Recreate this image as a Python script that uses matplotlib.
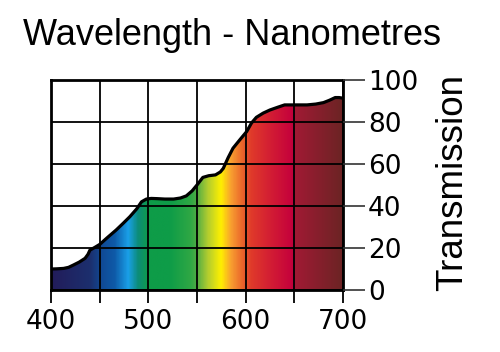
import matplotlib
matplotlib.use("Agg")
import matplotlib.pyplot as plt
import numpy as np
from matplotlib.colors import LinearSegmentedColormap
from matplotlib.patches import Polygon

# transmission curve
wavelength = [400, 406, 413, 418, 423, 429, 435, 438, 440, 445, 450, 458, 467, 474, 481, 488,
              493, 498, 503, 509, 517, 526, 533, 539, 545, 550, 556, 562, 569, 574, 577,
              582, 587, 594, 601, 606, 611, 618, 625, 633, 640, 650, 663, 672, 680, 686,
              692, 696, 700]
transmission = [10, 10.1, 10.3, 10.8, 11.9, 13.3, 15.1, 17, 19, 20.3, 21.7, 25, 28.6, 31.7,
                34.9, 38.6, 42, 43.3, 43.6, 43.5, 43.3, 43.3, 43.8, 44.8, 47.2, 50, 53.6, 54.4,
                54.8, 56.2, 57.9, 63, 67.5, 71.5, 75.4, 79.5, 82.2, 84.2, 85.7, 87, 88.1, 88.1,
                88.1, 88.5, 89.2, 90.3, 91.6, 91.6, 91.3]

# spectrum colours under the curve
stop_nm = [400, 440, 452, 465, 479, 489, 500, 522, 544, 550, 561, 575, 585, 599, 606, 627, 649, 652, 700]
stop_colors = ['#221c5a', '#1c2f6e', '#104a96', '#0e5aa8', '#1aa0e8', '#0c8c7a', '#0e9c48',
               '#0e9c48', '#30a844', '#50ac44', '#b0cc30', '#fff000', '#f8a030', '#e85a2a',
               '#e03a2a', '#d21c34', '#c4003c', '#a01a34', '#6c2424']

x_ticks = [400, 450, 500, 550, 600, 650, 700]
x_labels = ['400', '', '500', '', '600', '', '700']
y_ticks = [0, 20, 40, 60, 80, 100]

fig = plt.figure(figsize=(5, 3.52), dpi=100)
ax = fig.add_axes([0.102, 0.176, 0.584, 0.597])

pos = (np.array(stop_nm) - 400) / 300
cmap = LinearSegmentedColormap.from_list("spec", list(zip(pos, stop_colors)))
grad = np.linspace(0, 1, 600).reshape(1, -1)
im = ax.imshow(grad, cmap=cmap, extent=[400, 700, 0, 100], aspect="auto", zorder=1)

verts = [(400, 0)] + list(zip(wavelength, transmission)) + [(700, 0)]
clip = Polygon(verts, closed=True, facecolor="none", edgecolor="none")
ax.add_patch(clip)
im.set_clip_path(clip)

ax.plot(wavelength, transmission, color="black", lw=2.3, zorder=3, solid_capstyle="round")

ax.set_xlim(400, 700)
ax.set_ylim(0, 100)
ax.set_axisbelow(False)
ax.grid(True, color="black", lw=1.3)

ax.set_xticks(x_ticks)
ax.set_xticklabels(x_labels, fontfamily="DejaVu Sans", fontsize=19)
ax.yaxis.tick_right()
ax.set_yticks(y_ticks)
ax.set_yticklabels([str(v) for v in y_ticks], fontfamily="DejaVu Sans", fontsize=19)
ax.tick_params(axis="x", direction="out", length=9.5, width=1.3, pad=4, color="black")
ax.tick_params(axis="y", direction="out", length=16, width=1.2, pad=2, color="#333333")
for s in ax.spines.values():
    s.set_linewidth(2)

ax.yaxis.set_label_position("right")
ax.set_ylabel("Transmission", fontfamily="Liberation Sans", fontsize=26.5)
ax.yaxis.set_label_coords(1.315, 0.51)

fig.text(0.046, 1 - 45 / 352, "Wavelength - Nanometres", fontfamily="Liberation Sans",
         fontsize=26, va="baseline", ha="left")

plt.savefig("out.png", dpi=100)
